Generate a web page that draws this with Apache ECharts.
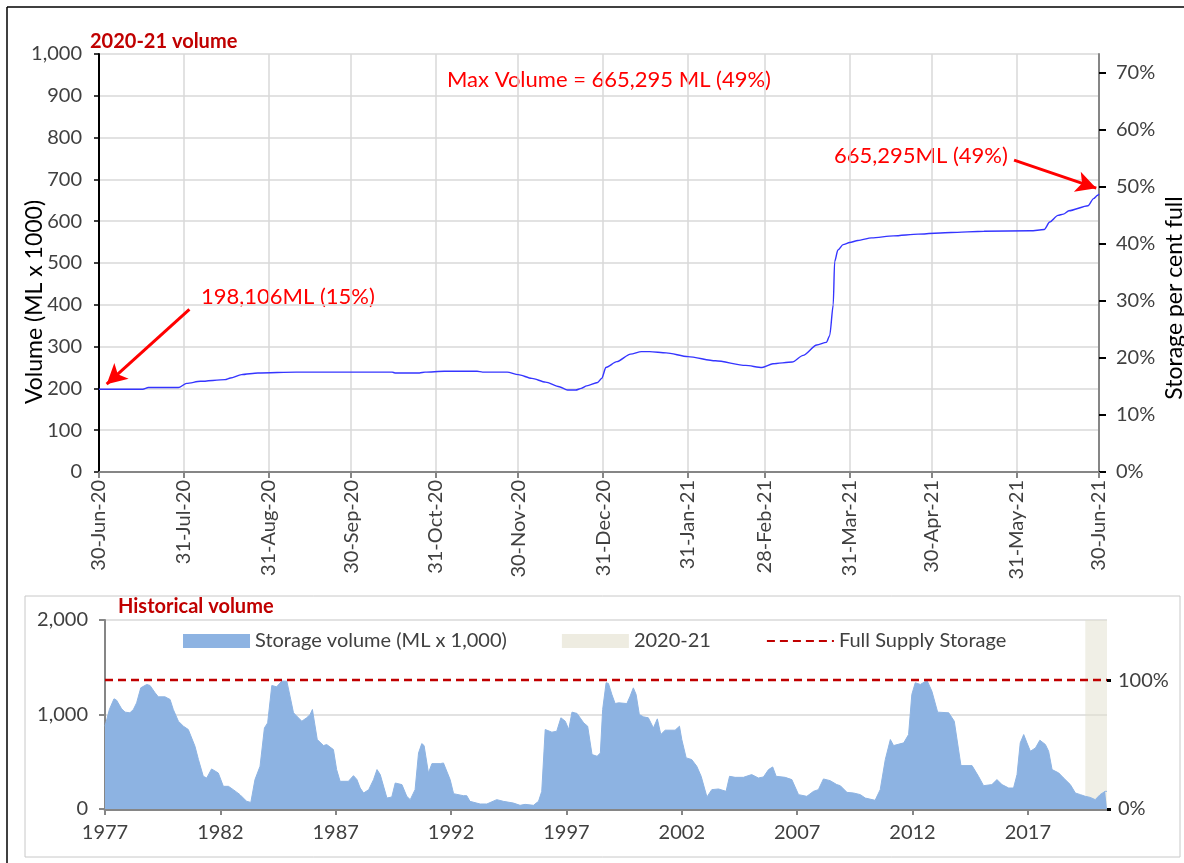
<!DOCTYPE html>
<html>
<head>
<meta charset="utf-8">
<script src="https://cdn.jsdelivr.net/npm/echarts@6/dist/echarts.min.js"></script>
<style>
  html, body { margin: 0; padding: 0; background: #fff; }
  #chart { width: 1184px; height: 863px; }
</style>
</head>
<body>
<div id="chart"></div>
<script>
// 2020-21 daily storage (day since 30-Jun-20, ML x 1000)
var dayIndex = [0, 16, 18, 29, 32, 37, 46, 48, 52, 58, 72, 107, 108, 117, 119, 126, 138, 140, 149, 153,
  158, 163, 168, 171, 174, 176, 178, 182, 183.5, 185, 189, 194, 198, 201, 207, 215, 225, 236, 242, 246,
  253, 257, 262, 265.5, 266.7, 268, 268.5, 269.7, 271.6, 274, 277, 282, 290, 299, 311, 323, 340, 345,
  347, 350, 352, 354, 361, 363, 364.5, 365];
var dailyVolume = [198, 198, 202, 202, 212, 217, 221, 225, 233, 237, 239, 239, 237, 237, 239, 241, 241, 239, 239, 233,
  224, 215, 204, 196, 196, 200, 206, 214, 224, 250, 264, 282, 288, 288, 285, 276, 266, 255, 250, 259,
  263, 279, 304, 310, 326, 400, 503, 531, 544, 549, 554, 560, 565, 569, 573, 576, 577, 580,
  598, 614, 617, 625, 637, 654, 662, 665];

var monthEndDays = [0, 31, 62, 92, 123, 153, 184, 215, 243, 274, 304, 335, 365];
var monthLabels = ['30-Jun-20', '31-Jul-20', '31-Aug-20', '30-Sep-20', '31-Oct-20', '30-Nov-20', '31-Dec-20',
  '31-Jan-21', '28-Feb-21', '31-Mar-21', '30-Apr-21', '31-May-21', '30-Jun-21'];
var pctTicksTop = [0, 10, 20, 30, 40, 50, 60, 70];

// historical storage (ML x 1000)
var histYear = [1977.0, 1977.04, 1977.19, 1977.39, 1977.5, 1977.72, 1977.87, 1978.08, 1978.23, 1978.37, 1978.55,
  1978.81, 1978.95, 1979.17, 1979.31, 1979.6, 1979.82, 1979.96, 1980.18, 1980.4, 1980.61, 1980.9, 1981.05,
  1981.26, 1981.41, 1981.62, 1981.91, 1982.13, 1982.35, 1982.56, 1982.85, 1983.14, 1983.32, 1983.5, 1983.72,
  1983.91, 1984.05, 1984.23, 1984.44, 1984.66, 1984.88, 1985.02, 1985.17, 1985.53, 1985.74, 1985.89, 1985.99,
  1986.2, 1986.47, 1986.61, 1986.9, 1987.04, 1987.19, 1987.55, 1987.77, 1987.92, 1988.06, 1988.21, 1988.43,
  1988.64, 1988.79, 1988.93, 1989.22, 1989.43, 1989.58, 1989.87, 1990.08, 1990.23, 1990.44, 1990.59, 1990.73,
  1990.83, 1991.02, 1991.17, 1991.53, 1991.67, 1991.96, 1992.11, 1992.53, 1992.68, 1992.82, 1993.26, 1993.55,
  1993.98, 1994.27, 1994.7, 1994.99, 1995.21, 1995.57, 1995.79, 1995.93, 1996.08, 1996.37, 1996.58, 1996.76,
  1996.95, 1997.1, 1997.24, 1997.46, 1997.75, 1997.92, 1998.11, 1998.33, 1998.47, 1998.57, 1998.72, 1998.82,
  1998.97, 1999.11, 1999.26, 1999.62, 1999.76, 1999.9, 2000.02, 2000.16, 2000.34, 2000.55, 2000.77, 2000.94,
  2001.09, 2001.28, 2001.71, 2001.9, 2002.0, 2002.19, 2002.43, 2002.65, 2002.84, 2003.09, 2003.3, 2003.59,
  2003.92, 2004.07, 2004.31, 2004.67, 2005.03, 2005.32, 2005.54, 2005.76, 2005.94, 2006.09, 2006.48, 2006.77,
  2007.06, 2007.42, 2007.71, 2007.92, 2008.14, 2008.43, 2008.72, 2008.87, 2009.16, 2009.45, 2009.74, 2009.95,
  2010.38, 2010.6, 2010.82, 2011.04, 2011.18, 2011.62, 2011.83, 2011.97, 2012.12, 2012.34, 2012.63, 2012.84,
  2013.09, 2013.57, 2013.81, 2014.1, 2014.58, 2014.86, 2015.08, 2015.44, 2015.66, 2015.88, 2016.17, 2016.38,
  2016.53, 2016.67, 2016.82, 2016.96, 2017.11, 2017.33, 2017.52, 2017.76, 2017.9, 2018.05, 2018.34, 2018.55,
  2018.84, 2019.06, 2019.28, 2019.49, 2019.7, 2019.92, 2020.13, 2020.35, 2020.43];
var histVolume = [876, 876, 1053, 1166, 1152, 1060, 1025, 1018, 1053, 1123, 1282,
  1318, 1307, 1230, 1187, 1187, 1159, 1053, 929, 876, 841, 664, 523,
  346, 328, 424, 381, 240, 240, 205, 152, 81, 70, 311, 452,
  858, 911, 1307, 1293, 1353, 1353, 1194, 1018, 929, 965, 1000, 1053,
  735, 671, 682, 629, 417, 293, 293, 353, 311, 222, 169, 205,
  311, 417, 364, 116, 127, 275, 258, 134, 99, 205, 593, 692,
  671, 381, 480, 480, 487, 311, 162, 141, 141, 81, 53, 53,
  99, 81, 63, 39, 49, 39, 81, 187, 841, 813, 823, 965,
  929, 841, 1025, 1011, 911, 876, 576, 558, 593, 1053, 1336, 1329,
  1212, 1116, 1124, 1116, 1194, 1282, 1212, 1000, 975, 965, 858, 954,
  788, 834, 834, 876, 735, 541, 523, 452, 346, 127, 205, 212,
  187, 346, 335, 335, 364, 328, 339, 417, 445, 346, 335, 311,
  152, 134, 187, 205, 318, 300, 258, 247, 176, 169, 152, 116,
  92, 205, 523, 735, 671, 700, 788, 1212, 1336, 1318, 1360, 1247,
  1025, 1018, 929, 459, 459, 346, 247, 258, 311, 258, 222, 222,
  364, 700, 788, 700, 611, 646, 728, 682, 611, 417, 381, 328,
  258, 169, 152, 134, 123, 99, 152, 187, 187];
var yearTicks = [1977, 1982, 1987, 1992, 1997, 2002, 2007, 2012, 2017];
var pctTicksBottom = [0, 100];

var fullSupply = 1364;
var histStart = 1977, histEnd = 2020.43;
var band2021 = [2019.49, 2020.43];

var FONT = 'Lato';
var TXT = '#404040';
var GRID_C = '#d9d9d9';
var AXIS_C = '#868686';
var FS = 20;

function zip(a, b) { return a.map(function (v, i) { return [v, b[i]]; }); }
function thousands(v) { return String(v).replace(/\B(?=(\d{3})+(?!\d))/g, ','); }
function pct(v) { return Math.round(v) + '%'; }

var dom = document.getElementById('chart');
var myChart = echarts.init(dom, null, { renderer: 'canvas' });

var option = {
  animation: false,
  textStyle: { fontFamily: FONT },
  grid: [
    { left: 99, right: 85, top: 54, bottom: 391, containLabel: false },
    { left: 105, right: 77, top: 620, bottom: 54, containLabel: false }
  ],
  legend: {
    left: 178, top: 626, itemWidth: 67, itemHeight: 14, itemGap: 55,
    textStyle: { fontFamily: FONT, fontSize: FS, color: TXT },
    data: [
      { name: 'Storage volume (ML x 1,000)', icon: 'rect' },
      { name: '2020-21', icon: 'rect' },
      { name: 'Full Supply Storage', itemStyle: { opacity: 0 } }
    ]
  },
  xAxis: [
    {
      type: 'value', gridIndex: 0, min: 0, max: 365,
      axisLine: { lineStyle: { color: AXIS_C, width: 2 } },
      axisTick: { customValues: monthEndDays, length: 6, lineStyle: { color: AXIS_C, width: 2 } },
      axisLabel: {
        customValues: monthEndDays, rotate: 90, margin: 8,
        fontFamily: FONT, fontSize: FS, color: TXT,
        formatter: function (v) { return monthLabels[monthEndDays.indexOf(v)] || ''; }
      },
      splitLine: { show: true, lineStyle: { color: GRID_C, width: 1.5 } }
    },
    {
      type: 'value', gridIndex: 1, min: histStart, max: histEnd,
      axisLine: { lineStyle: { color: AXIS_C, width: 3 } },
      axisTick: { customValues: yearTicks, length: 6, lineStyle: { color: AXIS_C, width: 2 } },
      axisLabel: {
        customValues: yearTicks, margin: 14, fontFamily: FONT, fontSize: FS, color: TXT,
        formatter: function (v) { return String(v); }
      },
      splitLine: { show: false }
    }
  ],
  yAxis: [
    {
      type: 'value', gridIndex: 0, min: 0, max: 1000, interval: 100,
      axisLine: { show: true, lineStyle: { color: '#000', width: 2 } },
      axisTick: { show: true, length: 5, lineStyle: { color: '#000', width: 1.5 } },
      axisLabel: { fontFamily: FONT, fontSize: FS, color: TXT, margin: 17, formatter: thousands },
      splitLine: { lineStyle: { color: GRID_C, width: 1.5 } }
    },
    {
      type: 'value', gridIndex: 0, position: 'right', min: 0, max: 1000 / fullSupply * 100,
      axisLine: { show: true, lineStyle: { color: AXIS_C, width: 2 } },
      axisTick: { show: true, customValues: pctTicksTop, length: 7, lineStyle: { color: '#000', width: 2 } },
      axisLabel: { customValues: pctTicksTop, margin: 17, fontFamily: FONT, fontSize: FS, color: TXT, formatter: pct },
      splitLine: { show: false }
    },
    {
      type: 'value', gridIndex: 1, min: 0, max: 2000, interval: 1000,
      axisLine: { show: true, lineStyle: { color: AXIS_C, width: 2 } },
      axisTick: { show: true, length: 6, lineStyle: { color: AXIS_C, width: 2 } },
      axisLabel: { fontFamily: FONT, fontSize: FS, color: TXT, margin: 17, formatter: thousands },
      splitLine: { lineStyle: { color: GRID_C, width: 1.5 } }
    },
    {
      type: 'value', gridIndex: 1, position: 'right', min: 0, max: 2000 / fullSupply * 100,
      axisLine: { show: false },
      axisTick: { show: true, customValues: pctTicksBottom, length: 4, lineStyle: { color: '#000', width: 3 } },
      axisLabel: { customValues: pctTicksBottom, margin: 11, fontFamily: FONT, fontSize: FS, color: TXT, formatter: pct },
      splitLine: { show: false }
    }
  ],
  series: [
    {
      name: '2020-21 volume', type: 'line', xAxisIndex: 0, yAxisIndex: 0,
      data: zip(dayIndex, dailyVolume),
      showSymbol: false, smooth: 0.25, smoothMonotone: 'x',
      lineStyle: { color: '#3535ff', width: 1.4 },
      markLine: {
        silent: true, symbol: ['none', 'arrow'], symbolSize: [16, 20],
        label: { show: false },
        lineStyle: { color: '#ff0000', width: 3, type: 'solid' },
        data: [
          [{ coord: [33, 389] }, { coord: [2.8, 210] }],
          [{ coord: [334, 746] }, { coord: [364, 679] }]
        ]
      }
    },
    {
      name: 'Storage volume (ML x 1,000)', type: 'line', xAxisIndex: 1, yAxisIndex: 2,
      data: zip(histYear, histVolume),
      showSymbol: false, itemStyle: { color: '#8db3e2' },
      lineStyle: { color: '#8db3e2', width: 1 },
      areaStyle: { color: '#8db3e2', opacity: 1 }, z: 2
    },
    {
      name: '2020-21', type: 'line', xAxisIndex: 1, yAxisIndex: 2, data: [],
      itemStyle: { color: '#eeece1' }, z: 3,
      markArea: {
        silent: true,
        itemStyle: { color: 'rgba(226,223,206,0.5)' },
        data: [[{ xAxis: band2021[0] }, { xAxis: band2021[1] }]]
      }
    },
    {
      name: 'Full Supply Storage', type: 'line', xAxisIndex: 1, yAxisIndex: 2,
      data: [[histStart, fullSupply], [histEnd, fullSupply]],
      showSymbol: false, symbol: 'none', itemStyle: { color: '#c00000' },
      lineStyle: { color: '#c00000', width: 2.5, type: [8, 5] }, z: 4
    }
  ],
  graphic: [
    { type: 'line', shape: { x1: 7, y1: 7, x2: 1184, y2: 7 }, style: { stroke: '#000', lineWidth: 1.5 } },
    { type: 'line', shape: { x1: 7, y1: 7, x2: 7, y2: 863 }, style: { stroke: '#000', lineWidth: 1.5 } },
    { type: 'rect', shape: { x: 25, y: 596, width: 1155, height: 261 }, style: { fill: 'none', stroke: '#c8c8c8', lineWidth: 1 }, z: -1 },
    { type: 'text', left: 90, top: 32, style: { text: '2020-21 volume', font: 'bold 20px Lato', fill: '#c00000' } },
    { type: 'text', left: 118, top: 597, style: { text: 'Historical volume', font: 'bold 20px Lato', fill: '#c00000' } },
    { type: 'text', x: 35, y: 302, rotation: Math.PI / 2, style: { text: 'Volume (ML x 1000)', font: '23px Lato', fill: '#000', textAlign: 'center', textVerticalAlign: 'middle' } },
    { type: 'text', x: 1175, y: 298, rotation: Math.PI / 2, style: { text: 'Storage per cent full', font: '23px Lato', fill: '#000', textAlign: 'center', textVerticalAlign: 'middle' } },
    { type: 'text', x: 609, y: 80, style: { text: 'Max Volume = 665,295 ML (49%)', font: '22px Lato', fill: '#ff0000', textAlign: 'center', textVerticalAlign: 'middle' } },
    { type: 'text', x: 201, y: 297, style: { text: '198,106ML (15%)', font: '22px Lato', fill: '#ff0000', textVerticalAlign: 'middle' } },
    { type: 'text', x: 834, y: 156, style: { text: '665,295ML (49%)', font: '22px Lato', fill: '#ff0000', textVerticalAlign: 'middle' } }
  ]
};

option && typeof option === 'object' && myChart.setOption(option, true);
</script>
</body>
</html>
